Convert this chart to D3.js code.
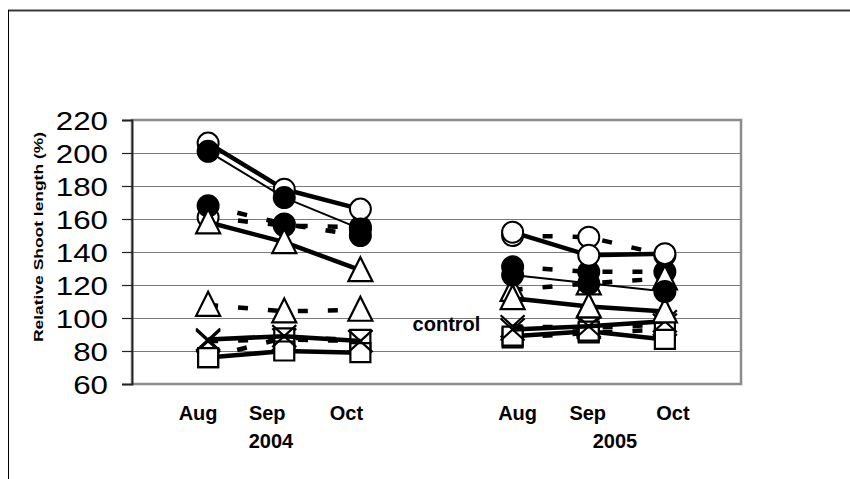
<!DOCTYPE html>
<html><head><meta charset="utf-8">
<script src="https://cdn.jsdelivr.net/npm/d3@7"></script>
<style>body{margin:0;background:#fff}svg{display:block}text{font-family:"Liberation Sans",Arial,sans-serif}</style>
</head><body><svg id="c" width="850" height="479"></svg>
<script>
// ---- data ----
const categories = ["2004-Aug","2004-Sep","2004-Oct","gap","2005-Aug","2005-Sep","2005-Oct"];
const monthLabels = ["Aug","Sep","Oct","","Aug","Sep","Oct"];
const yearLabels = ["2004","2005"];
const yTicks = [60,80,100,120,140,160,180,200,220];
const yTitle = "Relative Shoot length (%)";
const controlLabel = "control";

const openCircleSolid  = [206,178,166,null,152,138,139];
const filledCircleThin = [201,173,154,null,126,121,116];
const openCircleDash   = [161,156,155,null,150,149,138];
const filledCircleDash = [168,157,150,null,131,128,128];
const triangleSolid    = [158,146,129,null,112,107,104];
const triangleDash     = [108,104,105,null,117,121,124];
const crossDash        = [86,87,86,null,95,94,96];
const squareDash       = [76,88,87,null,88,91,93];
const crossSolid       = [87,89,86,null,93,95,98];
const squareSolid      = [76,80,79,null,89,92,87];

const series = [
  {values: openCircleDash,   marker:"circle",   fill:"#fff", style:"dash"},
  {values: filledCircleDash, marker:"circle",   fill:"#000", style:"dash"},
  {values: triangleDash,     marker:"triangle", fill:"#fff", style:"dash"},
  {values: crossDash,        marker:"cross",    fill:"none", style:"dash"},
  {values: squareDash,       marker:"square",   fill:"#fff", style:"dash"},
  {values: squareSolid,      marker:"square",   fill:"#fff", style:"thick"},
  {values: crossSolid,       marker:"cross",    fill:"none", style:"thick"},
  {values: triangleSolid,    marker:"triangle", fill:"#fff", style:"thick"},
  {values: openCircleSolid,  marker:"circle",   fill:"#fff", style:"thick"},
  {values: filledCircleThin, marker:"circle",   fill:"#000", style:"thin"}
];

// ---- layout ----
const L = {left:132, right:741, top:120, bottom:384};
const monthOffsets = [-10,-17,-14,0,5,-1,8];
const yearCenters = [271,615];

const svg = d3.select("#c");
const x = d3.scalePoint().domain(categories).range([L.left, L.right]).padding(1);
const y = d3.scaleLinear().domain([60,220]).range([L.bottom, L.top]);

// outer frame
svg.append("line").attr("x1",8).attr("x2",850).attr("y1",10.5).attr("y2",10.5).attr("stroke","#3a3a3a").attr("stroke-width",2);
svg.append("line").attr("x1",8.5).attr("x2",8.5).attr("y1",10).attr("y2",479).attr("stroke","#000").attr("stroke-width",1);

// gridlines
svg.append("g").selectAll("line").data(yTicks.filter(d=>d>60 && d<220)).join("line")
  .attr("x1",L.left).attr("x2",L.right).attr("y1",d=>Math.round(y(d))+0.5).attr("y2",d=>Math.round(y(d))+0.5)
  .attr("stroke","#7a7a7a").attr("stroke-width",1.2);
// plot border
svg.append("rect").attr("x",L.left).attr("y",L.top).attr("width",L.right-L.left).attr("height",L.bottom-L.top)
  .attr("fill","none").attr("stroke","#8c8c8c").attr("stroke-width",2.5);

// y axis
const yAxis = d3.axisLeft(y).tickValues(yTicks).tickSize(10).tickFormat(d3.format("d"));
const ga = svg.append("g").attr("transform",`translate(${L.left},0)`).call(yAxis);
ga.select(".domain").attr("stroke","#222").attr("stroke-width",1.8);
ga.selectAll(".tick line").attr("stroke","#222").attr("stroke-width",1.2);
ga.selectAll(".tick text").attr("font-size",25).attr("fill","#000").attr("x",-24).attr("dy","0.36em")
  .attr("font-family","'Liberation Sans',Arial,sans-serif")
  .attr("textLength",d=>String(d).length*17.4).attr("lengthAdjust","spacingAndGlyphs");

svg.append("text").attr("transform","translate(43,237) rotate(-90)").attr("text-anchor","middle")
  .attr("font-size",13.5).attr("font-weight","bold").attr("textLength",210).attr("lengthAdjust","spacingAndGlyphs").text(yTitle);

// x labels
svg.append("g").selectAll("text").data(categories.filter((c,i)=>monthLabels[i])).join("text")
  .attr("x",c=>x(c)+monthOffsets[categories.indexOf(c)]).attr("y",420).attr("text-anchor","middle")
  .attr("font-size",20).attr("font-weight","bold").text(c=>monthLabels[categories.indexOf(c)]);
svg.append("g").selectAll("text").data(yearLabels).join("text")
  .attr("x",(d,i)=>yearCenters[i]).attr("y",448).attr("text-anchor","middle")
  .attr("font-size",20).attr("font-weight","bold").text(d=>d);
svg.append("text").attr("x",x("gap")+10).attr("y",331).attr("text-anchor","middle")
  .attr("font-size",20).attr("font-weight","bold").text(controlLabel);

// series
const line = d3.line().defined(d=>d.v!=null).x(d=>x(d.c)).y(d=>y(d.v));
const sym = {
  triangle: "M0,-13 L12,11 L-12,11 Z",
  square: "M-10,-9.5 L10,-9.5 L10,9.5 L-10,9.5 Z",
  cross: "M-12,-11 L12,11 M12,-11 L-12,11"
};
series.forEach(s=>{
  const pts = s.values.map((v,i)=>({c:categories[i], v}));
  const g = svg.append("g");
  g.append("path").attr("d",line(pts)).attr("fill","none").attr("stroke","#000")
    .attr("stroke-width", s.style==="thin"?2:(s.style==="dash"?4.5:4.5))
    .attr("stroke-dasharray", s.style==="dash"?"10,20":null).attr("stroke-linejoin","round");
  const m = g.selectAll(".m").data(pts.filter(d=>d.v!=null)).join("g")
    .attr("transform",d=>`translate(${x(d.c)},${y(d.v)})`);
  if (s.marker==="circle") m.append("circle").attr("r",10.5).attr("fill",s.fill).attr("stroke","#000").attr("stroke-width",2);
  else m.append("path").attr("d",sym[s.marker]).attr("fill",s.fill).attr("stroke","#000").attr("stroke-width",2.2);
});
</script></body></html>
